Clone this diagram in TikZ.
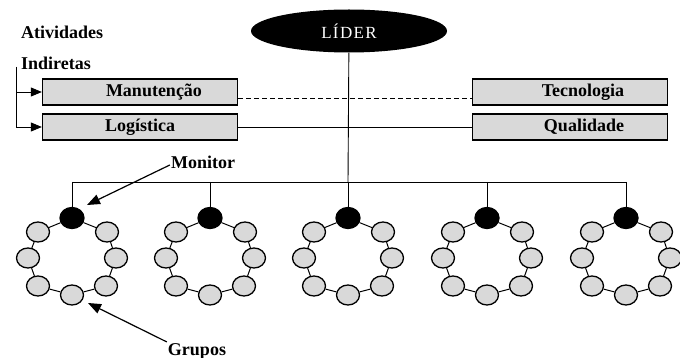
\documentclass[tikz,border=0pt]{standalone}
\usepackage{fontspec}
\setmainfont{Liberation Serif}
\usetikzlibrary{arrows.meta,positioning,shapes.geometric}

\begin{document}
\begin{tikzpicture}[x=1pt,y=-1pt,
  caixa/.style={draw,line width=1.3pt,fill=black!15,minimum width=195pt,minimum height=26pt,
    inner sep=0pt,font=\bfseries\fontsize{18}{20}\selectfont},
  rotulo/.style={inner sep=1pt,font=\bfseries\fontsize{18}{20}\selectfont},
  membro/.style={ellipse,draw,line width=1.3pt,fill=black!15,minimum width=23pt,minimum height=20pt,inner sep=0pt},
  monitor/.style={membro,fill=black,minimum width=24pt,minimum height=21pt},
  seta/.style={line width=0.9pt,-{Triangle[length=11pt,width=9pt]}},
  setalonga/.style={line width=1.2pt,-{Triangle[length=13pt,width=10pt]}}]

  \useasboundingbox (0,0) rectangle (680,358);

  % Lider
  \node[ellipse,fill=black,minimum width=196pt,minimum height=43pt,text=white,
    font=\fontsize{17}{18}\selectfont\addfontfeature{LetterSpace=8}] (lider) at (349,31) {LÍDER};

  % Atividades indiretas
  \node[rotulo,anchor=west] (ativ) at (20,32) {Atividades};
  \node[rotulo,anchor=west] (indir) at (20,63) {Indiretas};
  \node[caixa] (manut) at (140,92) {\hspace*{28pt}Manutenção};
  \node[caixa] (logist) at (140,127) {Logística};
  \node[caixa] (tecno) at (570,92) {\hspace*{26pt}Tecnologia};
  \node[caixa] (quali) at (570,127) {\hspace*{28pt}Qualidade};

  \coordinate (chave) at (16,67);
  \draw[seta] (chave) |- (manut.west);
  \draw[seta] (chave) |- (logist.west);

  \draw[dash pattern=on 5pt off 3pt,line width=0.9pt] ([yshift=-6pt]manut.east) -- ([yshift=-6pt]tecno.west);
  \draw[line width=0.9pt] (logist) -- (quali);

  % Grupos
  \foreach \gx [count=\i] in {72,210,348,487,626} {
    \coordinate (bus\i) at (\gx,182);
    \node[monitor] (g\i-1) at (\gx,218) {};
    \foreach \dx/\dy [count=\k from 2] in {35/232,44/258,34/286,0/295,-34/286,-44/258,-34/232}
      \node[membro] (g\i-\k) at (\gx+\dx,\dy) {};
    \foreach \k [remember=\k as \kk (initially 8)] in {1,...,8}
      \draw[line width=1pt] (g\i-\kk) -- (g\i-\k);
    \draw[line width=0.9pt] (bus\i) -- (g\i-1);
  }
  \draw[line width=0.9pt] (bus1) -- (bus5);
  \draw[line width=0.9pt] (lider) -- (bus3);

  % Labels
  \node[rotulo] (monit) at (203,162) {Monitor};
  \coordinate (mtip) at (87,205);
  \draw[setalonga] ([yshift=-3pt]monit.west) -- (mtip);

  \node[rotulo] (grupos) at (197,351) {Grupos};
  \coordinate (gtip) at (88,303);
  \draw[setalonga] (grupos.north west) -- (gtip);
\end{tikzpicture}
\end{document}
